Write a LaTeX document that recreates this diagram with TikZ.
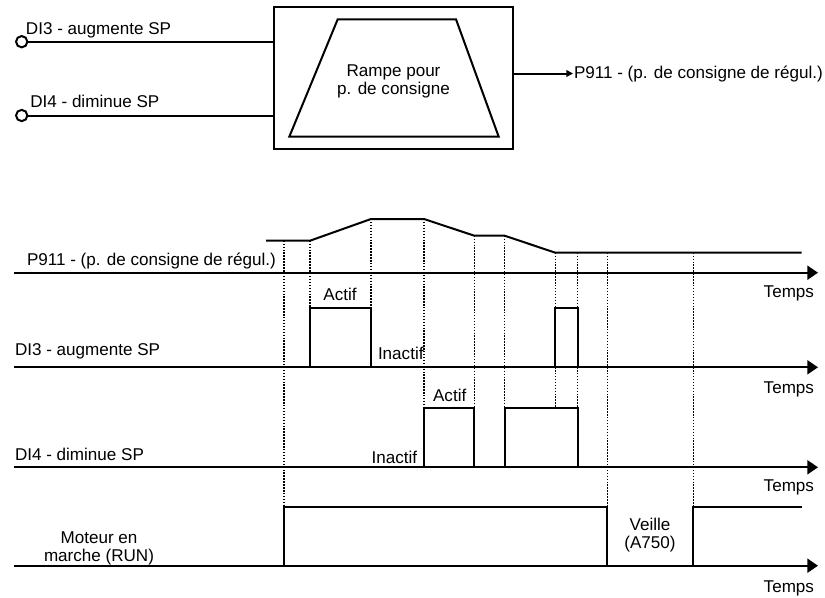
\documentclass[tikz,border=0pt]{standalone}
\usepackage{fontspec}
\setmainfont{Liberation Sans}
\usetikzlibrary{arrows.meta}

\begin{document}
\begin{tikzpicture}[x=0.75pt, y=-0.75pt, line width=1.5pt,
    every node/.style={inner sep=0pt, font=\fontsize{12.8}{13.5}\selectfont},
    pin/.style={circle, draw, fill=white, minimum size=8.5pt},
    axis/.style={-{Triangle[length=8pt,width=10.5pt]}},
    guide/.style={line width=1.1pt, dash pattern=on 1.1pt off 1.1pt}]
    \useasboundingbox (0,0) rectangle (825,597);

    \node[draw, minimum width=179.5pt, minimum height=107pt] (box) at (393.7,78) {};
    \draw (337.7,19.3) -- (456,19.3) -- (498.7,136.7) -- (289.3,136.7) -- cycle;
    \node[align=center] (ramp) at (393.5,81.3) {Rampe pour\\p. de consigne};
    \node[pin] (c3) at (21.7,41.7) {};
    \node[pin] (c4) at (21.7,115.5) {};
    \node[anchor=base west] (l3) at (25,34) {DI3 - augmente SP};
    \node[anchor=base west] (l4) at (29.3,107.8) {DI4 - diminue SP};
    \draw (c3) -- (c3 -| box.west);
    \draw (c4) -- (c4 -| box.west);
    \node[anchor=west] (out) at (573,73.5) {P911 - (p. de consigne de régul.)};
    \draw[-{Triangle[length=5pt,width=5pt]}] (box.east |- out) -- (out.west);

    \foreach \x/\ya/\yb in {284/240.7/506.7, 310/240.7/308.3, 371/219/308.3, 424/219/408.3,
        474.3/235.7/408.3, 504.7/235.7/408.3, 555.3/252.7/408.3, 577.7/252.7/408.3,
        607.3/252.7/506.7, 693.3/252.7/506.7}
        \draw[guide] (\x,\ya) -- (\x,\yb);

    \foreach \n/\y/\t in {1/272.7/297.7, 2/367.3/393, 3/467.3/491, 4/565.7/592.7} {
        \coordinate (a\n) at (14,\y);
        \coordinate (b\n) at (818,\y);
        \draw[axis] (a\n) -- (b\n);
        \node[anchor=base east] (t\n) at (815,\t) {Temps};
    }

    \draw (266,240.7) -- (310,240.7) -- (371,219) -- (424,219) -- (474.3,235.7) -- (504.7,235.7)
        -- (555.3,252.7) -- (801.7,252.7);
    \draw (310,367.3) |- (371,308.3) -- (371,367.3);
    \draw (555.3,367.3) |- (577.7,308.3) -- (577.7,367.3);
    \draw (424,467.3) |- (474.3,408.3) -- (474.3,467.3);
    \draw (504.7,467.3) |- (577.7,408.3) -- (577.7,467.3);
    \draw (284,565.7) |- (607.3,506.7) -- (607.3,565.7);
    \draw (693.3,565.7) |- (801.7,506.7);

    \node[anchor=base west] (sp) at (26,265) {P911 - (p. de consigne de régul.)};
    \node[anchor=base west] (d3) at (14,355) {DI3 - augmente SP};
    \node[anchor=base west] (d4) at (14,460) {DI4 - diminue SP};
    \node[align=center] (run) at (99,548.7) {Moteur en\\marche (RUN)};
    \node[anchor=base] (on3) at (340,300) {Actif};
    \node[anchor=base west] (off3) at (377,359.3) {Inactif};
    \node[anchor=base] (on4) at (449.7,401.7) {Actif};
    \node[anchor=base west] (off4) at (370.7,463.3) {Inactif};
    \node[align=center] (sleep) at (650,534.7) {Veille\\(A750)};
\end{tikzpicture}
\end{document}
